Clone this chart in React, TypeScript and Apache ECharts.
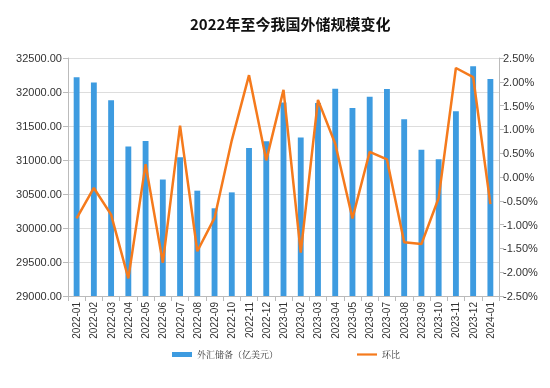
import React, { useEffect, useRef } from "react";
import * as echarts from "echarts";

const months = [
  "2022-01", "2022-02", "2022-03", "2022-04", "2022-05", "2022-06", "2022-07", "2022-08", "2022-09", "2022-10", "2022-11", "2022-12",
  "2023-01", "2023-02", "2023-03", "2023-04", "2023-05", "2023-06", "2023-07", "2023-08", "2023-09", "2023-10", "2023-11", "2023-12",
  "2024-01",
];
const reserves = [
  32216, 32138, 31880, 31197, 31278, 30713, 31041, 30549, 30290, 30524, 31175, 31277,
  31845, 31332, 31839, 32048, 31765, 31930, 32043, 31601, 31151, 31012, 31718, 32380,
  32193,
];
const momPct = [
  -0.87, -0.23, -0.79, -2.13, 0.27, -1.8, 1.08, -1.56, -0.86, 0.77, 2.14, 0.35,
  1.83, -1.59, 1.62, 0.7, -0.87, 0.53, 0.37, -1.37, -1.41, -0.44, 2.29, 2.1,
  -0.57,
];

export default function App() {
  const ref = useRef<HTMLDivElement>(null);
  useEffect(() => {
    if (!ref.current) return;
    const chart = echarts.init(ref.current, undefined, { renderer: "svg" });
    const labelFont = { color: "#333", fontSize: 11, fontFamily: "Liberation Sans, Arial, sans-serif" };
    chart.setOption({
      animation: false,
      title: {
        text: "2022年至今我国外储规模变化",
        left: 185,
        top: 11,
        textStyle: { fontSize: 15, fontWeight: "bold", color: "#111", fontFamily: "Noto Sans CJK SC, sans-serif" },
      },
      grid: { left: 68, right: 51, top: 58, bottom: 92 },
      legend: {
        top: 345,
        left: 167,
        itemGap: 79,
        itemWidth: 20,
        itemHeight: 5,
        textStyle: { fontSize: 9, color: "#333", fontFamily: "Noto Serif CJK SC, Noto Sans CJK SC, serif" },
        data: [
          { name: "外汇储备（亿美元）", icon: "rect" },
          { name: "环比", icon: "path://M0 0H20V2.2H0Z", itemStyle: { color: "#f57a1c" } },
        ],
      },
      xAxis: {
        type: "category",
        data: months,
        axisLine: { onZero: false, lineStyle: { color: "#bbb" } },
        axisTick: { show: true, lineStyle: { color: "#bbb" } },
        axisLabel: { ...labelFont, fontSize: 10, rotate: 90, interval: 0, margin: 6 },
      },
      yAxis: [
        {
          type: "value",
          min: 29000,
          max: 32500,
          interval: 500,
          axisLine: { show: true, lineStyle: { color: "#bbb" } },
          axisTick: { show: true, lineStyle: { color: "#bbb" } },
          axisLabel: { ...labelFont, formatter: (v: number) => v.toFixed(2), margin: 6 },
          splitLine: { lineStyle: { color: "#ddd" } },
        },
        {
          type: "value",
          min: -2.5,
          max: 2.5,
          interval: 0.5,
          axisLine: { show: true, lineStyle: { color: "#bbb" } },
          axisTick: { show: true, lineStyle: { color: "#bbb" } },
          axisLabel: { ...labelFont, formatter: (v: number) => v.toFixed(2) + "%", margin: 4 },
          splitLine: { show: false },
        },
      ],
      series: [
        {
          name: "外汇储备（亿美元）",
          type: "bar",
          data: reserves,
          barWidth: "34%",
          itemStyle: { color: "#3d9be0" },
        },
        {
          name: "环比",
          type: "line",
          yAxisIndex: 1,
          data: momPct,
          symbol: "none",
          lineStyle: { color: "#f57a1c", width: 2.5 },
          itemStyle: { color: "#f57a1c" },
        },
      ],
    });
    return () => chart.dispose();
  }, []);
  return <div ref={ref} style={{ position: "fixed", left: 0, top: 0, width: 550, height: 388 }} />;
}
